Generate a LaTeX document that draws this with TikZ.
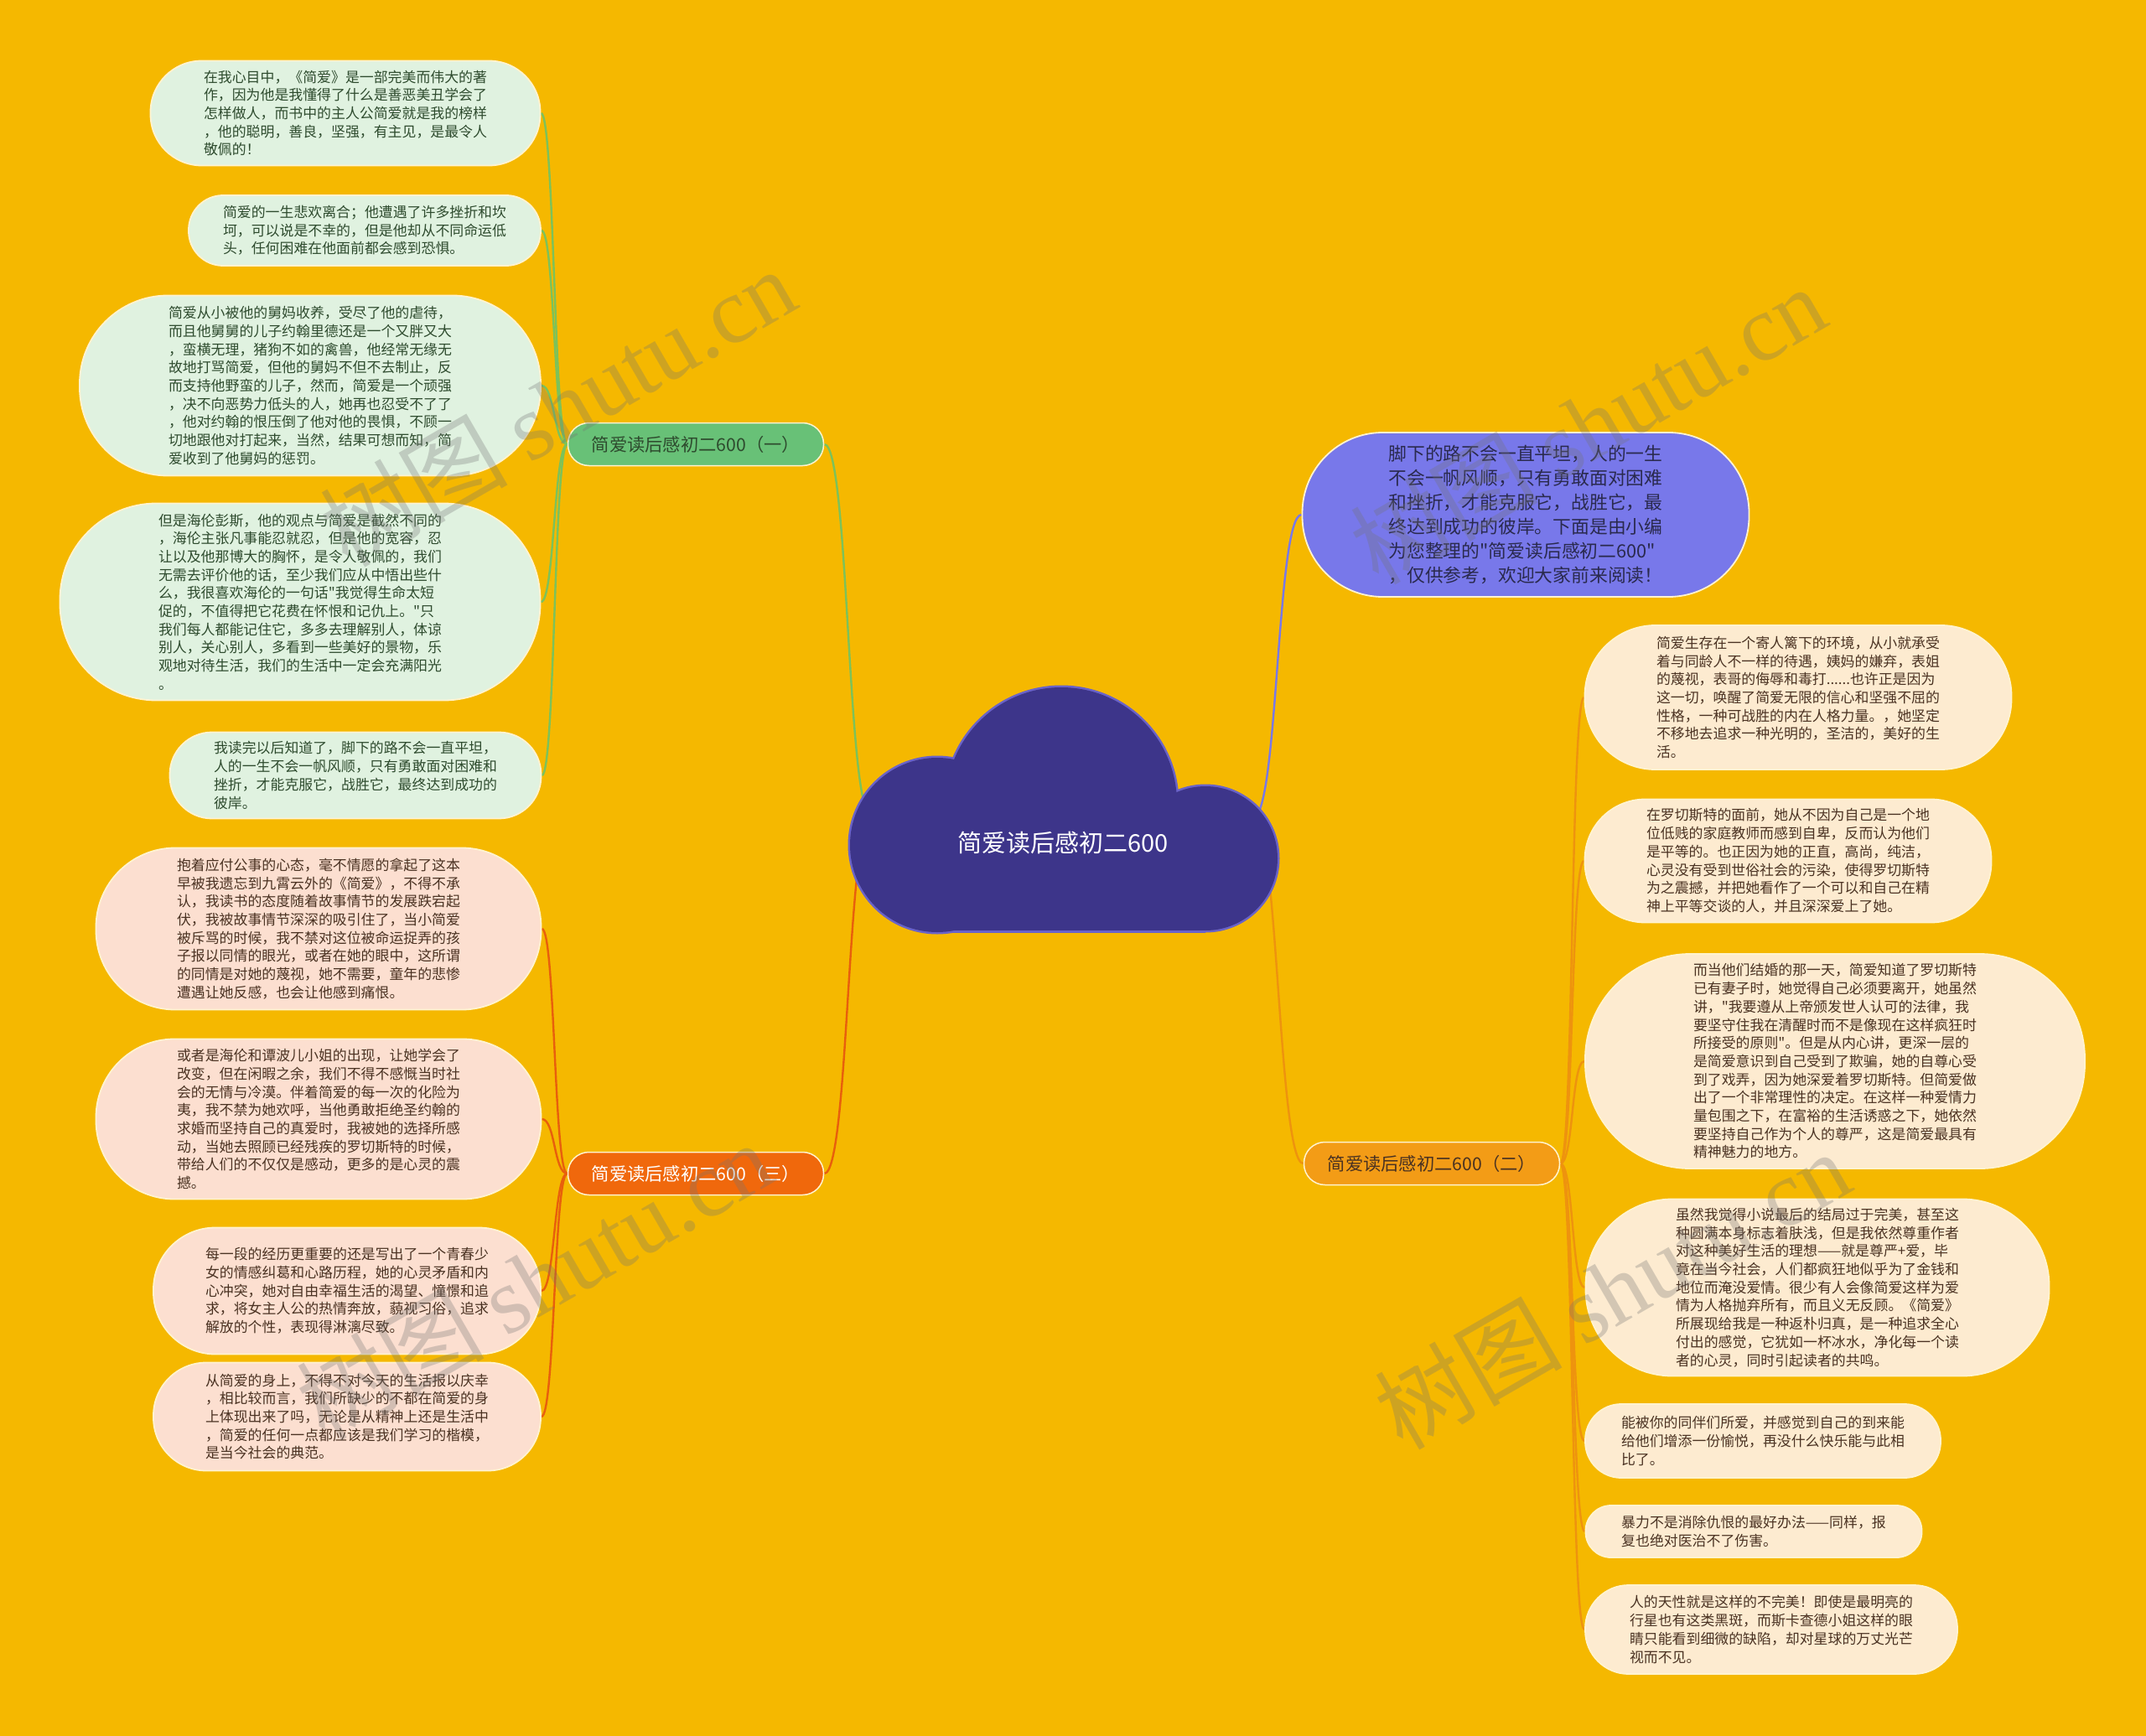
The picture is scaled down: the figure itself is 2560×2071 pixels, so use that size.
\documentclass[tikz,border=0pt]{standalone}
\usepackage{fontspec}
\setmainfont{Noto Sans CJK SC}[Ligatures=TeXOff]
\newfontfamily\wmserif{Liberation Serif}
\usepackage{tikz}
\usetikzlibrary{backgrounds}
\definecolor{bgyellow}{HTML}{F5B800}
\definecolor{cloudfill}{HTML}{3D358A}
\definecolor{cloudline}{HTML}{6A63C8}
\definecolor{introfill}{HTML}{7878EA}
\definecolor{introtext}{HTML}{2A2A4E}
\definecolor{onefill}{HTML}{68C177}
\definecolor{oneline}{HTML}{7CC25A}
\definecolor{greentext}{HTML}{2E4B2E}
\definecolor{leafgreen}{HTML}{E0F2E0}
\definecolor{twofill}{HTML}{F39C16}
\definecolor{twoline}{HTML}{EE930E}
\definecolor{leafcream}{HTML}{FDEBD0}
\definecolor{threefill}{HTML}{F0680C}
\definecolor{threeline}{HTML}{E85F0C}
\definecolor{leafpeach}{HTML}{FCDFD0}
\definecolor{browntext}{HTML}{4A3222}
\definecolor{rimcream}{HTML}{FFF3CF}

\begin{document}
\begin{tikzpicture}[
  x=1pt, y=-1pt,
  leaf/.style 2 args={rectangle, rounded corners=#2*0.49pt, draw=rimcream, line width=1.8pt,
                      minimum width=#1pt, minimum height=#2pt, inner sep=0pt, align=left,
                      font=\fontsize{16.9}{21.7}\selectfont},
  gleaf/.style 2 args={leaf={#1}{#2}, fill=leafgreen, text=greentext},
  pleaf/.style 2 args={leaf={#1}{#2}, fill=leafpeach, text=browntext},
  cleaf/.style 2 args={leaf={#1}{#2}, fill=leafcream, text=browntext},
  branch/.style={rectangle, rounded corners=25pt, draw=rimcream, line width=1.5pt,
                 minimum width=305pt, minimum height=51pt, inner sep=0pt,
                 font=\fontsize{21.3}{25}\selectfont},
  intro/.style={rectangle, rounded corners=96pt, draw=rimcream, line width=1.8pt,
                fill=introfill, text=introtext, minimum width=533pt, minimum height=196pt,
                inner sep=0pt, align=left, font=\fontsize{21.8}{29}\selectfont},
  roottext/.style={text=white, font=\fontsize{29}{34}\selectfont},
  twig/.style={line width=2.4pt},
  watermark/.style={rotate=30, text=black!55, opacity=0.3,
                    font=\fontsize{112}{112}\selectfont},
]
\useasboundingbox (0,0) rectangle (2560,2071);
\begin{scope}[on background layer]
  \fill[bgyellow] (0,0) rectangle (2560,2071);
\end{scope}

% --- cloud (root) ---
\foreach \cx/\cy/\r in {1266/958/138, 1118/1008/104, 1438/1024/86}
  \fill[cloudline] (\cx,\cy) circle [radius=\r+2.5];
\fill[cloudline] (1118,955) rectangle (1438,1112.5);
\foreach \cx/\cy/\r in {1266/958/138, 1118/1008/104, 1438/1024/86}
  \fill[cloudfill] (\cx,\cy) circle [radius=\r];
\fill[cloudfill] (1118,955) rectangle (1438,1110);
\node[roottext] (root) at (1268,1006) {简爱读后感初二600};
\coordinate (cl) at (1040,975);
\coordinate (cr) at (1495,975);

% --- branches ---
\node[intro] (intro) at (1820,614) {脚下的路不会一直平坦，人的一生\\不会一帆风顺，只有勇敢面对困难\\和挫折，才能克服它，战胜它，最\\终达到成功的彼岸。下面是由小编\\为您整理的"简爱读后感初二600"\\，仅供参考，欢迎大家前来阅读！};
\node[branch, fill=onefill, text=greentext] (b1) at (830,530) {简爱读后感初二600（一）};
\node[branch, fill=twofill, text=browntext] (b2) at (1708,1388) {简爱读后感初二600（二）};
\node[branch, fill=threefill, text=white] (b3) at (830,1400) {简爱读后感初二600（三）};

% --- leaves of (一), green ---
\node[gleaf={465}{125}] (l1) at (412,135) {在我心目中，《简爱》是一部完美而伟大的著\\作，因为他是我懂得了什么是善恶美丑学会了\\怎样做人，而书中的主人公简爱就是我的榜样\\，他的聪明，善良，坚强，有主见，是最令人\\敬佩的！};
\node[gleaf={420}{84}] (l2) at (435,275) {简爱的一生悲欢离合；他遭遇了许多挫折和坎\\坷，可以说是不幸的，但是他却从不同命运低\\头，任何困难在他面前都会感到恐惧。};
\node[gleaf={550}{215}] (l3) at (370,460) {简爱从小被他的舅妈收养，受尽了他的虐待，\\而且他舅舅的儿子约翰里德还是一个又胖又大\\，蛮横无理，猪狗不如的禽兽，他经常无缘无\\故地打骂简爱，但他的舅妈不但不去制止，反\\而支持他野蛮的儿子，然而，简爱是一个顽强\\，决不向恶势力低头的人，她再也忍受不了了\\，他对约翰的恨压倒了他对他的畏惧，不顾一\\切地跟他对打起来，当然，结果可想而知，简\\爱收到了他舅妈的惩罚。};
\node[gleaf={573}{235}] (l4) at (358,718) {但是海伦彭斯，他的观点与简爱是截然不同的\\，海伦主张凡事能忍就忍，但是他的宽容，忍\\让以及他那博大的胸怀，是令人敬佩的，我们\\无需去评价他的话，至少我们应从中悟出些什\\么，我很喜欢海伦的一句话"我觉得生命太短\\促的，不值得把它花费在怀恨和记仇上。"只\\我们每人都能记住它，多多去理解别人，体谅\\别人，关心别人，多看到一些美好的景物，乐\\观地对待生活，我们的生活中一定会充满阳光\\。};
\node[gleaf={443}{103}] (l5) at (424,925) {我读完以后知道了，脚下的路不会一直平坦，\\人的一生不会一帆风顺，只有勇敢面对困难和\\挫折，才能克服它，战胜它，最终达到成功的\\彼岸。};

% --- leaves of (三), peach ---
\node[pleaf={531}{193}] (o1) at (380,1108) {抱着应付公事的心态，毫不情愿的拿起了这本\\早被我遗忘到九霄云外的《简爱》，不得不承\\认，我读书的态度随着故事情节的发展跌宕起\\伏，我被故事情节深深的吸引住了，当小简爱\\被斥骂的时候，我不禁对这位被命运捉弄的孩\\子报以同情的眼光，或者在她的眼中，这所谓\\的同情是对她的蔑视，她不需要，童年的悲惨\\遭遇让她反感，也会让他感到痛恨。};
\node[pleaf={531}{191}] (o2) at (380,1335) {或者是海伦和谭波儿小姐的出现，让她学会了\\改变，但在闲暇之余，我们不得不感慨当时社\\会的无情与冷漠。伴着简爱的每一次的化险为\\夷，我不禁为她欢呼，当他勇敢拒绝圣约翰的\\求婚而坚持自己的真爱时，我被她的选择所感\\动，当她去照顾已经残疾的罗切斯特的时候，\\带给人们的不仅仅是感动，更多的是心灵的震\\撼。};
\node[pleaf={462}{151}] (o3) at (414,1540) {每一段的经历更重要的还是写出了一个青春少\\女的情感纠葛和心路历程，她的心灵矛盾和内\\心冲突，她对自由幸福生活的渴望、憧憬和追\\求，将女主人公的热情奔放，藐视习俗，追求\\解放的个性，表现得淋漓尽致。};
\node[pleaf={462}{129}] (o4) at (414,1690) {从简爱的身上，不得不对今天的生活报以庆幸\\，相比较而言，我们所缺少的不都在简爱的身\\上体现出来了吗，无论是从精神上还是生活中\\，简爱的任何一点都应该是我们学习的楷模，\\是当今社会的典范。};

% --- leaves of (二), cream ---
\node[cleaf={509}{172}] (r1) at (2145,832) {简爱生存在一个寄人篱下的环境，从小就承受\\着与同龄人不一样的待遇，姨妈的嫌弃，表姐\\的蔑视，表哥的侮辱和毒打......也许正是因为\\这一切，唤醒了简爱无限的信心和坚强不屈的\\性格，一种可战胜的内在人格力量。，她坚定\\不移地去追求一种光明的，圣洁的，美好的生\\活。};
\node[cleaf={485}{147}] (r2) at (2133,1027) {在罗切斯特的面前，她从不因为自己是一个地\\位低贱的家庭教师而感到自卑，反而认为他们\\是平等的。也正因为她的正直，高尚，纯洁，\\心灵没有受到世俗社会的污染，使得罗切斯特\\为之震撼，并把她看作了一个可以和自己在精\\神上平等交谈的人，并且深深爱上了她。};
\node[cleaf={596}{256}] (r3) at (2189,1266) {而当他们结婚的那一天，简爱知道了罗切斯特\\已有妻子时，她觉得自己必须要离开，她虽然\\讲，"我要遵从上帝颁发世人认可的法律，我\\要坚守住我在清醒时而不是像现在这样疯狂时\\所接受的原则"。但是从内心讲，更深一层的\\是简爱意识到自己受到了欺骗，她的自尊心受\\到了戏弄，因为她深爱着罗切斯特。但简爱做\\出了一个非常理性的决定。在这样一种爱情力\\量包围之下，在富裕的生活诱惑之下，她依然\\要坚持自己作为个人的尊严，这是简爱最具有\\精神魅力的地方。};
\node[cleaf={553}{211}] (r4) at (2168,1536) {虽然我觉得小说最后的结局过于完美，甚至这\\种圆满本身标志着肤浅，但是我依然尊重作者\\对这种美好生活的理想——就是尊严+爱，毕\\竟在当今社会，人们都疯狂地似乎为了金钱和\\地位而淹没爱情。很少有人会像简爱这样为爱\\情为人格抛弃所有，而且义无反顾。《简爱》\\所展现给我是一种返朴归真，是一种追求全心\\付出的感觉，它犹如一杯冰水，净化每一个读\\者的心灵，同时引起读者的共鸣。};
\node[cleaf={424}{88}] (r5) at (2103,1719) {能被你的同伴们所爱，并感觉到自己的到来能\\给他们增添一份愉悦，再没什么快乐能与此相\\比了。};
\node[cleaf={401}{62}] (r6) at (2092,1827) {暴力不是消除仇恨的最好办法——同样，报\\复也绝对医治不了伤害。};
\node[cleaf={444}{106}] (r7) at (2113,1944) {人的天性就是这样的不完美！即使是最明亮的\\行星也有这类黑斑，而斯卡查德小姐这样的眼\\睛只能看到细微的缺陷，却对星球的万丈光芒\\视而不见。};

% --- connectors, under the shapes ---
\begin{scope}[on background layer]
  \draw[twig, introfill] (cr) .. controls +(30,0) and +(-30,0) .. (intro.west);
  \draw[twig, twoline] (cr) .. controls +(30,0) and +(-30,0) .. (b2.west);
  \draw[twig, oneline] (cl) .. controls +(-30,0) and +(30,0) .. (b1.east);
  \draw[twig, threeline] (cl) .. controls +(-30,0) and +(30,0) .. (b3.east);
  \foreach \l in {l1,l2,l3,l4,l5}
    \draw[twig, oneline] (b1.west) .. controls +(-16,0) and +(16,0) .. (\l.east);
  \foreach \l in {o1,o2,o3,o4}
    \draw[twig, threeline] (b3.west) .. controls +(-16,0) and +(16,0) .. (\l.east);
  \foreach \l in {r1,r2,r3,r4,r5,r6,r7}
    \draw[twig, twoline] (b2.east) .. controls +(16,0) and +(-16,0) .. (\l.west);
\end{scope}

% --- watermarks ---
\foreach \wx/\wy [count=\i] in {665/485, 1894/506, 637/1527, 1923/1538}
  \node[watermark] (wm\i) at (\wx,\wy) {树图 {\wmserif shutu.cn}};

\end{tikzpicture}
\end{document}
